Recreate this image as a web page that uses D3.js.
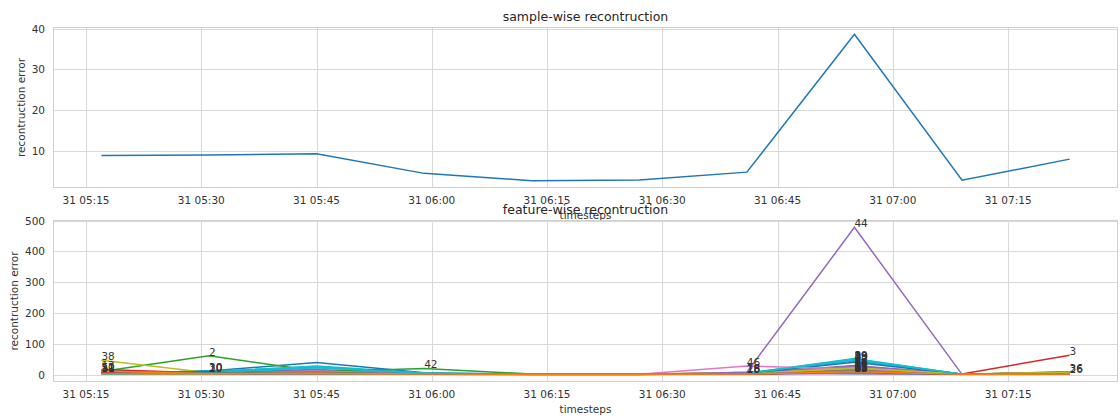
<!DOCTYPE html>
<html>
<head>
<meta charset="utf-8">
<script src="https://cdn.jsdelivr.net/npm/d3@7"></script>
<style>
  body { margin: 0; background: #fff; }
  svg { display: block; font-family: "DejaVu Sans", sans-serif; }
</style>
</head>
<body>
<svg id="chart" width="1120" height="418"></svg>
<script>
// timesteps (day 31)
const timesteps = ['05:17', '05:31', '05:45', '05:59', '06:13', '06:27', '06:41', '06:55', '07:09', '07:23'];
const xTickLabels = ['05:15', '05:30', '05:45', '06:00', '06:15', '06:30', '06:45', '07:00', '07:15'];
const sampleYTicks = [10, 20, 30, 40];
const featureYTicks = [0, 100, 200, 300, 400, 500];

// mean error per sample
const sampleError = [8.8, 8.9, 9.2, 4.4, 2.6, 2.75, 4.7, 38.6, 2.7, 7.9];

// error per feature (row = feature index)
const featureError = [
  [4, 12, 39, 6, 1, 1, 4, 45, 1, 2],
  [6, 4, 8, 2, 1, 1, 3, 22, 1, 3],
  [10, 61, 12, 3, 1, 1, 2, 8, 1, 4],
  [5, 3, 4, 2, 1, 1, 2, 6, 2, 63],
  [3, 6, 17, 3, 1, 1, 4, 30, 1, 2],
  [4, 5, 8, 2, 1, 1, 3, 14, 1, 2],
  [3, 4, 10, 2, 1, 1, 4, 12, 1, 7],
  [5, 4, 6, 2, 1, 1, 3, 18, 1, 2],
  [3, 3, 5, 2, 1, 1, 3, 25, 1, 6],
  [4, 8, 28, 5, 1, 1, 5, 50, 1, 2],
  [5, 11, 10, 2, 1, 1, 6, 3, 1, 2],
  [12, 4, 5, 2, 1, 1, 2, 10, 1, 2],
  [3, 4, 6, 2, 1, 1, 3, 20, 1, 8],
  [17, 5, 6, 2, 1, 1, 2, 9, 1, 3],
  [3, 4, 14, 3, 1, 1, 3, 28, 1, 2],
  [4, 3, 5, 2, 1, 1, 2, 12, 1, 3],
  [3, 3, 6, 2, 1, 1, 8, 6, 1, 5],
  [4, 4, 5, 2, 1, 1, 3, 16, 1, 2],
  [3, 3, 4, 2, 1, 1, 7, 5, 1, 4],
  [3, 6, 22, 4, 1, 1, 4, 48, 1, 2],
  [4, 10, 8, 2, 1, 1, 3, 6, 1, 2],
  [5, 4, 6, 2, 1, 1, 2, 15, 1, 2],
  [3, 3, 5, 2, 1, 1, 3, 18, 1, 9],
  [9, 4, 5, 2, 1, 1, 2, 11, 1, 3],
  [2, 3, 12, 2, 1, 1, 3, 26, 1, 2],
  [3, 3, 4, 2, 1, 1, 2, 10, 1, 2],
  [2, 3, 5, 2, 1, 1, 3, 4, 1, 6],
  [3, 4, 5, 2, 1, 1, 2, 13, 1, 2],
  [3, 3, 4, 2, 1, 1, 6, 5, 1, 4],
  [3, 6, 24, 4, 1, 1, 4, 52, 1, 2],
  [4, 12, 9, 2, 1, 1, 3, 5, 1, 2],
  [10, 4, 5, 2, 1, 1, 2, 8, 1, 2],
  [3, 3, 5, 2, 1, 1, 3, 16, 1, 8],
  [7, 4, 5, 2, 1, 1, 2, 14, 1, 3],
  [2, 3, 10, 2, 1, 1, 3, 24, 1, 2],
  [3, 3, 4, 2, 1, 1, 2, 11, 1, 2],
  [2, 3, 4, 2, 1, 1, 3, 5, 1, 7],
  [3, 3, 4, 2, 1, 1, 2, 12, 1, 2],
  [47, 6, 5, 2, 1, 1, 3, 20, 1, 8],
  [3, 11, 26, 4, 1, 1, 4, 46, 1, 2],
  [4, 10, 8, 2, 1, 1, 3, 40, 1, 2],
  [5, 4, 5, 2, 1, 1, 2, 12, 1, 2],
  [4, 5, 9, 20, 2, 1, 2, 10, 1, 4],
  [8, 4, 5, 2, 1, 1, 2, 9, 1, 3],
  [1, 2, 3, 1, 0, 0, 8, 478, 1, 1],
  [3, 3, 4, 2, 1, 1, 2, 12, 1, 2],
  [3, 3, 12, 2, 1, 1, 28, 18, 1, 3],
  [3, 3, 4, 2, 1, 1, 2, 14, 1, 2],
  [3, 3, 4, 2, 1, 1, 3, 22, 1, 6],
  [3, 6, 23, 4, 1, 1, 4, 49, 1, 2],
  [11, 5, 8, 2, 1, 1, 3, 7, 1, 2],
  [11, 4, 5, 2, 1, 1, 2, 9, 1, 2]
];

const palette = ['#1f77b4', '#ff7f0e', '#2ca02c', '#d62728', '#9467bd',
                 '#8c564b', '#e377c2', '#7f7f7f', '#bcbd22', '#17becf'];

const parseT = s => new Date(2023, 0, 31, +s.slice(0, 2), +s.slice(3));
const times = timesteps.map(parseT);
const xTicks = xTickLabels.map(parseT);

const svg = d3.select('#chart');
const left = 53, right = 1118;

// 5% margin like matplotlib autoscale
function padded(lo, hi) {
  const p = (hi - lo) * 0.05;
  return [lo - p, hi + p];
}

const tExt = d3.extent(times);
const x = d3.scaleTime().domain(padded(+tExt[0], +tExt[1])).range([left, right]);

function drawPanel(top, bottom, yDomain, yTicks, title) {
  const y = d3.scaleLinear().domain(yDomain).range([bottom, top]);
  const g = svg.append('g');

  // grid
  g.selectAll('.vgrid').data(xTicks).join('line')
    .attr('x1', d => Math.round(x(d)) + 0.5).attr('x2', d => Math.round(x(d)) + 0.5)
    .attr('y1', top).attr('y2', bottom)
    .attr('stroke', '#d9d9d9').attr('stroke-width', 1);
  g.selectAll('.hgrid').data(yTicks).join('line')
    .attr('x1', left).attr('x2', right)
    .attr('y1', d => Math.round(y(d)) + 0.5).attr('y2', d => Math.round(y(d)) + 0.5)
    .attr('stroke', '#d9d9d9').attr('stroke-width', 1);

  // frame
  g.append('rect')
    .attr('x', left + 0.5).attr('y', top + 0.5)
    .attr('width', right - left - 1).attr('height', bottom - top - 1)
    .attr('fill', 'none').attr('stroke', '#d0d0d0').attr('stroke-width', 1);

  // tick labels
  g.selectAll('.xt').data(xTicks).join('text')
    .attr('x', d => x(d)).attr('y', bottom + 16)
    .attr('text-anchor', 'middle')
    .attr('font-size', '10.5px').attr('fill', '#333')
    .text(d3.timeFormat('%d %H:%M'));
  g.selectAll('.yt').data(yTicks).join('text')
    .attr('x', left - 8).attr('y', d => y(d) + 4)
    .attr('text-anchor', 'end')
    .attr('font-size', '10.5px').attr('fill', '#333')
    .text(d => d);

  // title
  g.append('text')
    .attr('x', (left + right) / 2).attr('y', top - 6)
    .attr('text-anchor', 'middle')
    .attr('font-size', '12.5px').attr('fill', '#262626')
    .text(title);

  // axis labels
  g.append('text')
    .attr('x', (left + right) / 2).attr('y', bottom + 31)
    .attr('text-anchor', 'middle')
    .attr('font-size', '10.5px').attr('fill', '#333')
    .text('timesteps');
  return { g, y };
}

// sample-wise panel
const s = drawPanel(27, 188, padded(d3.min(sampleError), d3.max(sampleError)), sampleYTicks,
  'sample-wise recontruction');
s.g.append('text')
  .attr('transform', `translate(25,${(27 + 188) / 2}) rotate(-90)`)
  .attr('text-anchor', 'middle')
  .attr('font-size', '10.5px').attr('fill', '#333')
  .text('recontruction error');

const line1 = d3.line().x((d, i) => x(times[i])).y(d => s.y(d));
s.g.append('path')
  .datum(sampleError)
  .attr('fill', 'none')
  .attr('stroke', palette[0])
  .attr('stroke-width', 1.5)
  .attr('d', line1);

// feature-wise panel
const allVals = featureError.flat();
const f = drawPanel(220, 382, padded(d3.min(allVals), d3.max(allVals)), featureYTicks,
  'feature-wise recontruction');
f.g.append('text')
  .attr('transform', `translate(18,${(220 + 382) / 2}) rotate(-90)`)
  .attr('text-anchor', 'middle')
  .attr('font-size', '10.5px').attr('fill', '#333')
  .text('recontruction error');

const line2 = d3.line().x((d, i) => x(times[i])).y(d => f.y(d));
f.g.selectAll('.feat').data(featureError).join('path')
  .attr('fill', 'none')
  .attr('stroke', (d, i) => palette[i % 10])
  .attr('stroke-width', 1.5)
  .attr('d', line2);

// label each feature at its maximum
f.g.selectAll('.lab').data(featureError).join('text')
  .attr('x', d => x(times[d3.maxIndex(d)]))
  .attr('y', d => f.y(d3.max(d)))
  .attr('font-size', '10.5px').attr('fill', '#333')
  .text((d, i) => i);
</script>
</body>
</html>
